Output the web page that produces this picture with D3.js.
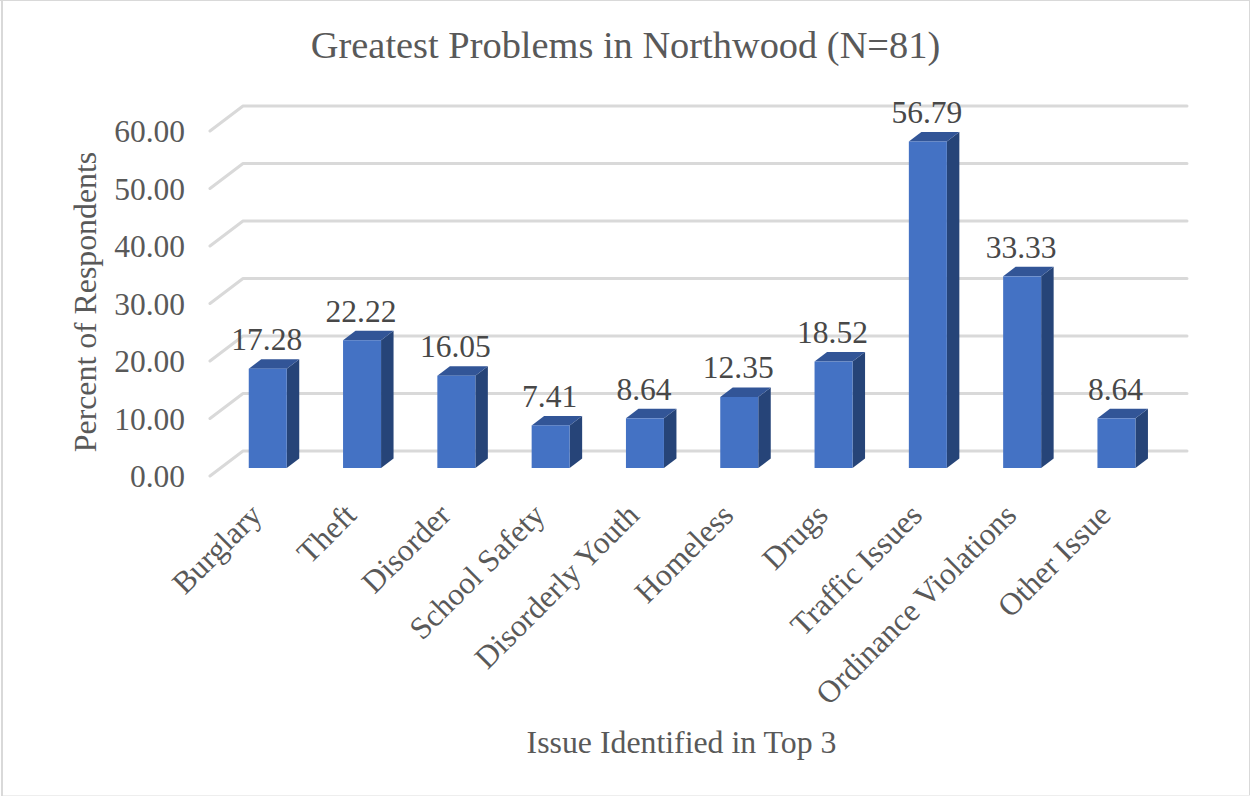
<!DOCTYPE html>
<html><head><meta charset="utf-8">
<script src="https://cdn.jsdelivr.net/npm/d3@7"></script>
<style>html,body{margin:0;padding:0;background:#fff}svg{display:block}text{font-family:"Liberation Serif",serif;fill:#595959}</style>
</head><body><svg id="c" width="1250" height="796"></svg>
<script>
const categories=["Burglary","Theft","Disorder","School Safety","Disorderly Youth","Homeless","Drugs","Traffic Issues","Ordinance Violations","Other Issue"];
const values=[17.28,22.22,16.05,7.41,8.64,12.35,18.52,56.79,33.33,8.64];
const ticks=[0,10,20,30,40,50,60];
const titleText="Greatest Problems in Northwood (N=81)";
const yTitle="Percent of Respondents";
const xTitle="Issue Identified in Top 3";

const svg=d3.select("#c");
svg.append("rect").attr("width",1250).attr("height",796).attr("fill","#fff");
svg.append("path").attr("fill","none").attr("stroke","#d9d9d9").attr("stroke-width",1).attr("d","M0,0.5H1250M1249.5,0V796");
svg.append("path").attr("fill","none").attr("stroke","#d9d9d9").attr("stroke-width",2).attr("d","M2,0V796");
svg.append("path").attr("fill","none").attr("stroke","#eeeeee").attr("stroke-width",1).attr("d","M3,795.5H1250");
const y=d3.scaleLinear().domain([0,60]).range([468,123]);
const x=d3.scaleBand().domain(categories).range([220.6,1163.6]).paddingInner(0.597).paddingOuter(0.2985);
const barDx=12.5,barDy=-9.5;
const wallDx=33,wallDy=-25,wallY=8;
const gridEnd=1187;

const g=svg.append("g");
ticks.forEach(t=>{
  const yf=y(t)+wallY;
  g.append("path").attr("fill","none").attr("stroke","#d9d9d9").attr("stroke-width",3)
   .attr("stroke-linejoin","round").attr("stroke-linecap","round")
   .attr("d",`M210,${yf}L${210+wallDx},${yf+wallDy}L${gridEnd},${yf+wallDy}`);
});
const bars=svg.append("g").selectAll("g").data(categories).join("g");
bars.each(function(c,i){
  const s=d3.select(this),x0=x(c),w=x.bandwidth(),yt=y(values[i]),yb=y(0);
  s.append("path").attr("fill","#264478").attr("d",`M${x0+w},${yt}L${x0+w+barDx},${yt+barDy}L${x0+w+barDx},${yb+barDy}L${x0+w},${yb}Z`);
  s.append("path").attr("fill","#325597").attr("d",`M${x0},${yt}L${x0+barDx},${yt+barDy}L${x0+w+barDx},${yt+barDy}L${x0+w},${yt}Z`);
  s.append("rect").attr("x",x0).attr("y",yt).attr("width",w).attr("height",yb-yt).attr("fill","#4472c4");
});
bars.each(function(c,i){
  d3.select(this).append("text").attr("x",x(c)+x.bandwidth()/2-1).attr("y",y(values[i])-18.5).attr("text-anchor","middle").attr("font-size",31.5).attr("style","fill:#484848").text(values[i].toFixed(2));
});
ticks.forEach(t=>{
  svg.append("text").attr("x",185).attr("y",y(t)+19).attr("text-anchor","end").attr("font-size",31.5).text(t.toFixed(2));
});
categories.forEach(c=>{
  const px=x(c)+x.bandwidth()/2-4,py=517;
  svg.append("text").attr("transform",`translate(${px},${py}) rotate(-45)`).attr("text-anchor","end").attr("font-size",31.5).text(c);
});
svg.append("text").attr("x",625.5).attr("y",57.5).attr("text-anchor","middle").attr("font-size",38.4).text(titleText);
svg.append("text").attr("transform","translate(96,302) rotate(-90)").attr("text-anchor","middle").attr("font-size",31.8).text(yTitle);
svg.append("text").attr("x",681.5).attr("y",753).attr("text-anchor","middle").attr("font-size",31.8).text(xTitle);
</script></body></html>
